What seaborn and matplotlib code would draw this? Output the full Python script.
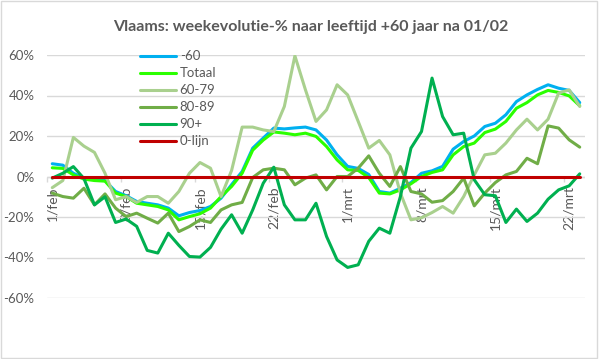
"""Vlaams: weekevolutie-% naar leeftijd +60 jaar na 01/02."""

import matplotlib

matplotlib.use("Agg")
import matplotlib.pyplot as plt
import numpy as np
import pandas as pd
import seaborn as sns
from matplotlib.patches import Rectangle

TITLE = "Vlaams: weekevolutie-% naar leeftijd +60 jaar na 01/02"

# dagen 1/feb .. 23/mrt (index 0..50)
tick_days = [0, 7, 14, 21, 28, 35, 42, 49]
tick_labels = ["1/feb", "8/feb", "15/feb", "22/feb", "1/mrt", "8/mrt", "15/mrt", "22/mrt"]

min60 = [6.3, 5.6, 1.6, -0.8, -1.6, -2.0, -7.4, -9.5, -12.3, -13.2, -14.0, -15.6, -19.4,
         -17.8, -16.8, -14.8, -10.7, -4.0, 2.5, 14.0, 19.0, 23.9, 23.5, 24.0, 24.4, 23.0,
         18.0, 10.7, 5.0, 4.0, 1.0, -7.4, -8.2, -5.8, -3.0, 1.6, 2.8, 5.0, 13.5, 17.3,
         20.0, 24.7, 26.3, 30.5, 37.0, 40.3, 43.0, 45.3, 43.6, 42.5, 36.5]
totaal = [4.3, 4.0, 0.8, -1.3, -2.0, -2.3, -8.2, -9.9, -13.2, -14.0, -14.8, -16.5, -21.4,
          -19.8, -18.4, -15.6, -9.9, -4.9, 1.6, 13.0, 18.0, 22.0, 21.4, 20.6, 21.4, 19.8,
          14.8, 8.2, 3.3, 3.0, -0.5, -8.2, -8.6, -6.6, -3.6, 0.0, 2.0, 3.3, 10.7, 14.8,
          16.5, 21.7, 23.4, 27.2, 33.7, 36.5, 40.3, 42.5, 41.5, 39.8, 34.9]
a60_79 = [-5.5, -2.0, 19.3, 15.0, 11.9, 1.6, -11.5, -9.9, -12.8, -9.9, -9.9, -13.2, -7.4,
          1.6, 6.9, 4.1, -9.9, 3.0, 24.4, 24.4, 23.0, 22.2, 34.6, 59.6, 42.8, 27.2,
          32.9, 45.3, 40.3, 27.2, 14.0, 17.8, 10.7, -8.2, -21.4, -20.4, -17.8, -14.8, -18.1,
          -9.9, 0.8, 10.7, 11.5, 16.5, 23.0, 28.3, 23.0, 28.3, 41.2, 42.8, 34.6]
a80_89 = [-8.2, -9.9, -10.7, -5.8, -14.0, -8.6, -15.6, -19.8, -18.1, -20.6, -23.0, -18.1, -27.2,
          -24.7, -21.4, -22.7, -16.5, -14.0, -12.8, -0.5, 3.3, 4.1, 3.3, -4.1, -0.8, 0.8,
          -6.6, 0.0, 0.0, 4.1, 10.2, 1.6, -4.9, 4.9, -7.4, -8.6, -12.7, -11.9, -7.4, -0.8,
          -14.5, -8.2, -3.0, 0.8, 2.5, 9.0, 6.3, 25.0, 23.9, 18.1, 14.5]
a90 = [-0.8, 1.6, 4.9, -1.0, -14.0, -10.0, -22.7, -21.0, -24.6, -36.5, -37.8, -28.0, -34.0,
       -39.5, -39.8, -35.0, -26.0, -18.9, -28.0, -16.5, -3.3, 4.6, -14.0, -21.4, -21.4, -13.2,
       -29.6, -41.2, -44.9, -43.6, -32.0, -25.5, -28.0, -9.9, 14.0, 22.2, 48.6, 29.6, 20.6,
       21.4, -1.6, -9.0, -9.5, -22.7, -16.1, -22.2, -18.1, -11.2, -6.6, -4.6, 1.3]
nul_lijn = [0.0] * 51

series = ["-60", "Totaal", "60-79", "80-89", "90+", "0-lijn"]
values = [min60, totaal, a60_79, a80_89, a90, nul_lijn]
colors = ["#00B0F0", "#2BFF00", "#A9D08E", "#70AD47", "#00B050", "#C00000"]

GREY = "#595959"
GRID = "#D9D9D9"


def main() -> None:
    sns.set_theme(style="white")
    plt.rcParams["font.family"] = ["Lato", "DejaVu Sans"]

    fig = plt.figure(figsize=(5.99, 3.59), dpi=100)
    ax = fig.add_axes([47 / 599, 61 / 359, 538 / 599, 243 / 359])

    days = np.arange(len(min60))
    ax.axhline(0, color=GRID, lw=1, zorder=1)
    for name, vals, col in zip(series, values, colors):
        df = pd.DataFrame({"dag": days, "pct": vals})
        sns.lineplot(data=df, x="dag", y="pct", color=col, lw=2.2, label=name, ax=ax, zorder=3)

    ax.set_xlim(-0.5, len(days) - 0.5)
    ax.set_ylim(-60, 60)
    ax.set_xlabel("")
    ax.set_ylabel("")
    for side in ["top", "right", "left", "bottom"]:
        ax.spines[side].set_visible(False)
    # x-as kruist op 0 (moet vóór de ticks, set_position reset de as)
    ax.spines["bottom"].set_position(("data", 0))

    ax.set_yticks(range(-60, 61, 20))
    ax.set_yticklabels([f"{v}%" for v in range(-60, 61, 20)])
    ax.yaxis.grid(True, color=GRID, lw=1)
    ax.set_axisbelow(True)

    ax.set_xticks(tick_days)
    ax.set_xticklabels(tick_labels, rotation=90, ha="center", va="top")
    ax.set_xticks(np.arange(-0.5, len(days), 7), minor=True)
    ax.tick_params(axis="x", which="major", length=0, pad=7, labelsize=10, labelcolor=GREY)
    ax.tick_params(axis="x", which="minor", length=3.5, width=1, color=GRID, bottom=True)
    ax.tick_params(axis="y", length=0, pad=9, labelsize=9.5, labelcolor=GREY)

    leg = ax.legend(loc="upper left", bbox_to_anchor=(0.173, 1.02), frameon=False,
                    fontsize=9.5, handlelength=2.7, handletextpad=0.3,
                    labelspacing=0.38, borderpad=0, borderaxespad=0)
    for t in leg.get_texts():
        t.set_color(GREY)

    fig.text(311 / 599, 1 - 27 / 359, TITLE, ha="center", va="center",
             fontsize=11.5, fontweight="bold", color=GREY)
    fig.patches.append(Rectangle((0.002, 0.003), 0.994, 0.994, transform=fig.transFigure,
                                 fill=False, edgecolor=GRID, lw=1))

    fig.savefig("out.png", dpi=100)
    plt.close(fig)


if __name__ == "__main__":
    main()
